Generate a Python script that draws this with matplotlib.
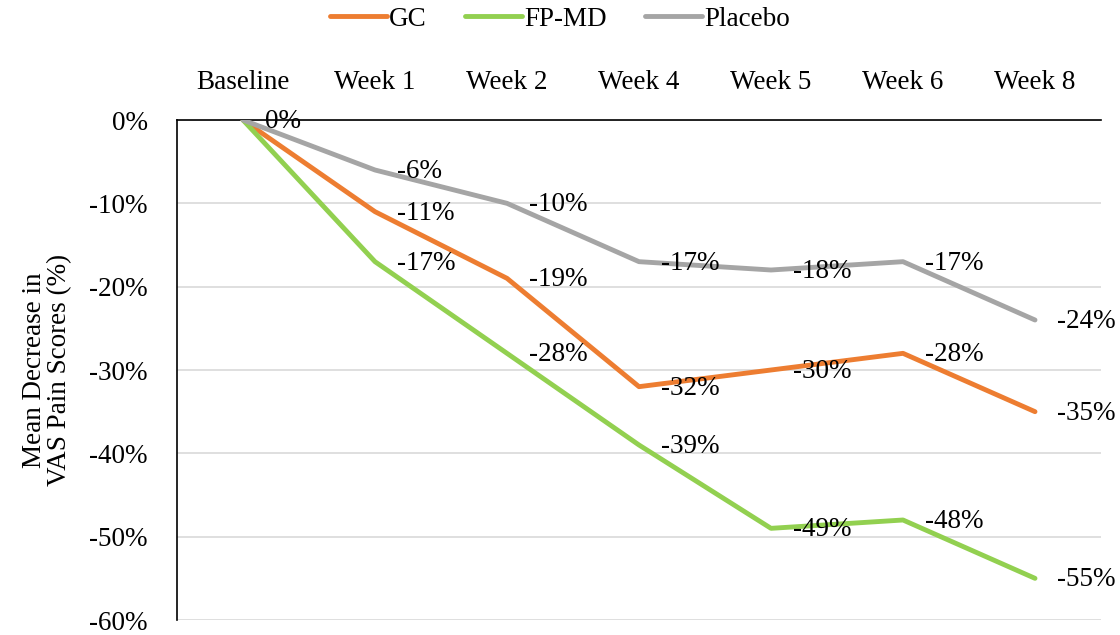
import matplotlib
matplotlib.use("Agg")
import matplotlib.pyplot as plt
from matplotlib.ticker import PercentFormatter

categories = ["Baseline", "Week 1", "Week 2", "Week 4", "Week 5", "Week 6", "Week 8"]
gc = [0, -11, -19, -32, -30, -28, -35]
fp_md = [0, -17, -28, -39, -49, -48, -55]
placebo = [0, -6, -10, -17, -18, -17, -24]

series = [
    ("GC", gc, "#ED7D31"),
    ("FP-MD", fp_md, "#92D050"),
    ("Placebo", placebo, "#A5A5A5"),
]

plt.rcParams["font.family"] = ["Liberation Serif", "DejaVu Serif"]
plt.rcParams["axes.unicode_minus"] = False
FS = 19.5

fig = plt.figure(figsize=(11.2, 6.35), dpi=100)
ax = fig.add_axes([177 / 1120, 1 - 620 / 635, 924 / 1120, 500 / 635])

x = list(range(len(categories)))
handles = []
labelled = set()
for name, vals, color in series:
    (h,) = ax.plot(x, vals, color=color, lw=3.5, solid_capstyle="round",
                   solid_joinstyle="round", label=name, zorder=3)
    handles.append(h)
    for xi, v in zip(x, vals):
        if (xi, v) in labelled:
            continue
        labelled.add((xi, v))
        ax.annotate(f"{v}%", (xi, v), xytext=(16, -1), textcoords="offset points",
                    ha="left", va="center", fontsize=FS, color="#000000", zorder=4)

ax.set_xlim(-0.5, len(categories) - 0.5)
ax.set_ylim(-60, 0)
ax.set_yticks(range(-60, 1, 10))
ax.yaxis.set_major_formatter(PercentFormatter(decimals=0))
ax.grid(axis="y", color="#D9D9D9", lw=1.2)
ax.set_axisbelow(True)

ax.xaxis.tick_top()
ax.set_xticks(x)
ax.set_xticklabels(categories)
ax.tick_params(axis="x", length=0, pad=18, labelsize=FS)
ax.tick_params(axis="y", length=0, pad=21, labelsize=FS)

for s in ["right", "bottom"]:
    ax.spines[s].set_visible(False)
for s in ["top", "left"]:
    ax.spines[s].set_color("#000000")
    ax.spines[s].set_linewidth(1.2)

ax.set_ylabel("Mean Decrease in\nVAS Pain Scores (%)", fontsize=FS, labelpad=12,
              linespacing=1.05)

fig.legend(handles=handles, loc="upper center", bbox_to_anchor=(0.5, 1.028),
           ncol=3, frameon=False, fontsize=FS, handlelength=2.1,
           handletextpad=0.1, columnspacing=1.4)

fig.savefig("out.png", dpi=100)
